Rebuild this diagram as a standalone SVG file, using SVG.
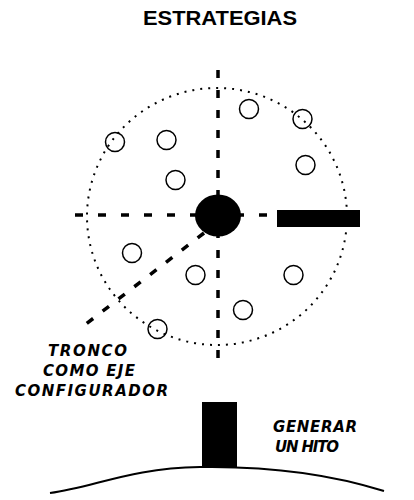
<svg xmlns="http://www.w3.org/2000/svg" width="414" height="500" viewBox="0 0 414 500">
<style>
.title{font-family:"Liberation Sans",Arial,sans-serif;font-weight:bold;font-size:20px;fill:#000}
.lbl{font-family:"DejaVu Sans","Open Sans",sans-serif;font-style:italic;font-weight:700;font-size:15px;fill:#000}
.dash{stroke:#000;stroke-width:3.5;fill:none}
.small{fill:none;stroke:#000;stroke-width:1.5}
</style>
<rect width="414" height="500" fill="#fff"/>
<text class="title" x="143" y="25" textLength="154" lengthAdjust="spacingAndGlyphs">ESTRATEGIAS</text>
<g id="field">
  <ellipse cx="217" cy="216.5" rx="130" ry="128.5" fill="none" stroke="#000" stroke-width="2" stroke-dasharray="2 6"/>
</g>
<g id="connectors">
  <line class="dash" x1="218" y1="70" x2="218" y2="366" stroke-dasharray="8 12"/>
  <line class="dash" x1="75" y1="215" x2="363" y2="215" stroke-dasharray="8 15"/>
  <line class="dash" x1="204" y1="233" x2="86" y2="324" stroke-dasharray="8 12" stroke-width="4"/>
</g>
<g id="nodes">
  <circle class="small" cx="249" cy="109" r="9.5"/>
  <circle class="small" cx="302.5" cy="119" r="9.5"/>
  <circle class="small" cx="115" cy="142" r="9.5"/>
  <circle class="small" cx="166.5" cy="140" r="9.5"/>
  <circle class="small" cx="175.5" cy="180" r="9.5"/>
  <circle class="small" cx="305.5" cy="165" r="9.5"/>
  <circle class="small" cx="132" cy="253" r="9.5"/>
  <circle class="small" cx="195.5" cy="275" r="9.5"/>
  <circle class="small" cx="293.5" cy="275" r="9.5"/>
  <circle class="small" cx="243" cy="310" r="9.5"/>
  <circle class="small" cx="157.5" cy="329" r="9.5"/>
</g>
<g id="tronco">
  <ellipse cx="218" cy="215.5" rx="23" ry="21" fill="#000"/>
</g>
<g id="bar">
  <rect x="277" y="210" width="83" height="17" fill="#000"/>
</g>
<g id="label-tronco">
  <text class="lbl" x="48" y="356" textLength="79" lengthAdjust="spacing">TRONCO</text>
  <text class="lbl" x="43" y="376" textLength="92" lengthAdjust="spacing">COMO EJE</text>
  <text class="lbl" x="15" y="396" textLength="153" lengthAdjust="spacing">CONFIGURADOR</text>
</g>
<g id="hito">
  <rect x="202" y="402" width="35" height="65" fill="#000"/>
  <text class="lbl" x="273" y="432" textLength="84" lengthAdjust="spacing">GENERAR</text>
  <text class="lbl" x="275" y="452" textLength="64" lengthAdjust="spacing">UN HITO</text>
</g>
<g id="ground">
  <path d="M50,493 C95,487 130,468 200,467 C265,466 330,474 384,491" fill="none" stroke="#000" stroke-width="2"/>
</g>
</svg>
